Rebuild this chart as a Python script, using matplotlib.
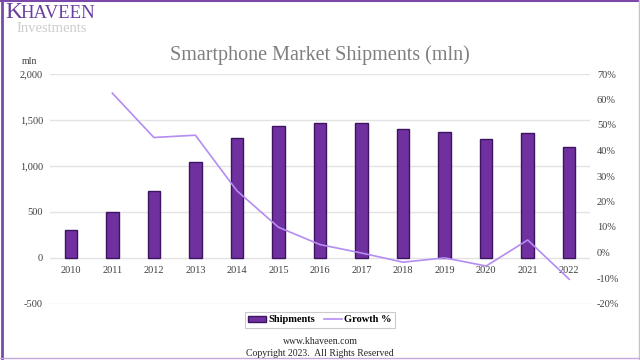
import matplotlib
matplotlib.use("Agg")
import matplotlib.pyplot as plt
from matplotlib.patches import Patch
from matplotlib.lines import Line2D
from matplotlib.ticker import FuncFormatter

years = ["2010", "2011", "2012", "2013", "2014", "2015", "2016",
         "2017", "2018", "2019", "2020", "2021", "2022"]
shipments = [300, 495, 725, 1040, 1300, 1437, 1470, 1465, 1405, 1372, 1292, 1355, 1205]
growth_years = years[1:]
growth = [62.5, 45.1, 46.0, 24.2, 9.9, 3.1, -0.2, -3.8, -2.1, -5.3, 4.9, -10.5]

serif = "Liberation Serif"
bar_color = "#7030a0"
bar_edge = "#3d1460"
line_color = "#b48cf2"

fig = plt.figure(figsize=(6.4, 3.6), dpi=100)
fig.patch.set_facecolor("white")

ax = fig.add_axes([50/640, 1-303.5/360, 540/640, 229.5/360])
x = list(range(len(years)))
ax.bar(x, shipments, width=0.3, color=bar_color, edgecolor=bar_edge, linewidth=1.0, zorder=3)
ax.set_xlim(-0.5, len(years)-0.5)
ax.set_ylim(-500, 2000)
ax.set_yticks([-500, 0, 500, 1000, 1500, 2000])
ax.yaxis.set_major_formatter(FuncFormatter(lambda v, p: f"{int(v):,}"))
ax.grid(axis="y", color="#e3e3e3", linewidth=1.0, zorder=0)
for s in ax.spines.values():
    s.set_visible(False)
ax.spines["bottom"].set_position(("data", 0))
ax.set_xticks(x)
ax.set_xticklabels(years)
ax.tick_params(axis="both", length=0, labelsize=7.5, labelcolor="#404040", pad=6)
for lab in ax.get_xticklabels() + ax.get_yticklabels():
    lab.set_fontfamily(serif)
ax.tick_params(axis="y", pad=5)

ax2 = ax.twinx()
gx = [years.index(y) for y in growth_years]
ax2.plot(gx, growth, color=line_color, linewidth=1.2, zorder=4)
ax2.set_ylim(-20, 70)
ax2.set_yticks(range(-20, 71, 10))
ax2.yaxis.set_major_formatter(FuncFormatter(lambda v, p: f"{int(v)}%"))
for s in ax2.spines.values():
    s.set_visible(False)
ax2.tick_params(axis="y", length=0, labelsize=7.5, labelcolor="#404040", pad=5)
for lab in ax2.get_yticklabels():
    lab.set_fontfamily(serif)

fig.text(30/640, 1-62/360, "mln", fontsize=7, family=serif, color="#404040", ha="center", va="center")

fig.text(320/640, 1-55/360, "Smartphone Market Shipments (mln)", fontsize=14.5,
         family=serif, color="#7f7f7f", ha="center", va="center")

handles = [Patch(facecolor=bar_color, edgecolor=bar_edge), Line2D([0], [0], color=line_color, lw=1.2)]
leg = fig.legend(handles, ["Shipments", "Growth %"], loc="center", bbox_to_anchor=(320/640, 1-320/360),
                 ncol=2, frameon=True, fancybox=False, prop={"family": serif, "weight": "bold", "size": 7.5},
                 handlelength=1.7, handleheight=0.5, handletextpad=0.2, columnspacing=0.9,
                 borderpad=0.35, edgecolor="#bfbfbf")
leg.get_frame().set_linewidth(0.8)

fig.text(320/640, 1-342/360, "www.khaveen.com", fontsize=7, family=serif, color="#262626", ha="center", va="center")
fig.text(320/640, 1-353/360, "Copyright 2023.  All Rights Reserved", fontsize=7, family=serif, color="#262626",
         ha="center", va="center")

fig.text(5/640, 1-13/360, "K", fontsize=17, family=serif, color="#6b3fa0", ha="left", va="center")
fig.text(20/640, 1-14/360, "HAVEEN", fontsize=13.5, family=serif, color="#6b3fa0", ha="left", va="center")
fig.text(16/640, 1-29/360, "Investments", fontsize=10.5, family=serif, color="#cccccc", ha="left", va="center")

# frame
fig.add_artist(Line2D([1.5/640, 1.5/640], [0, 1], color="#7b4aa8", lw=2, transform=fig.transFigure))
fig.add_artist(Line2D([0, 1], [1-0.7/360, 1-0.7/360], color="#7b4aa8", lw=1.5, transform=fig.transFigure))
fig.add_artist(Line2D([638.5/640, 638.5/640], [0, 1], color="#c9bfd3", lw=1, transform=fig.transFigure))
fig.add_artist(Line2D([0, 1], [1-358/360, 1-358/360], color="#c6a8e0", lw=1, transform=fig.transFigure))

fig.savefig("out.png", dpi=100)
